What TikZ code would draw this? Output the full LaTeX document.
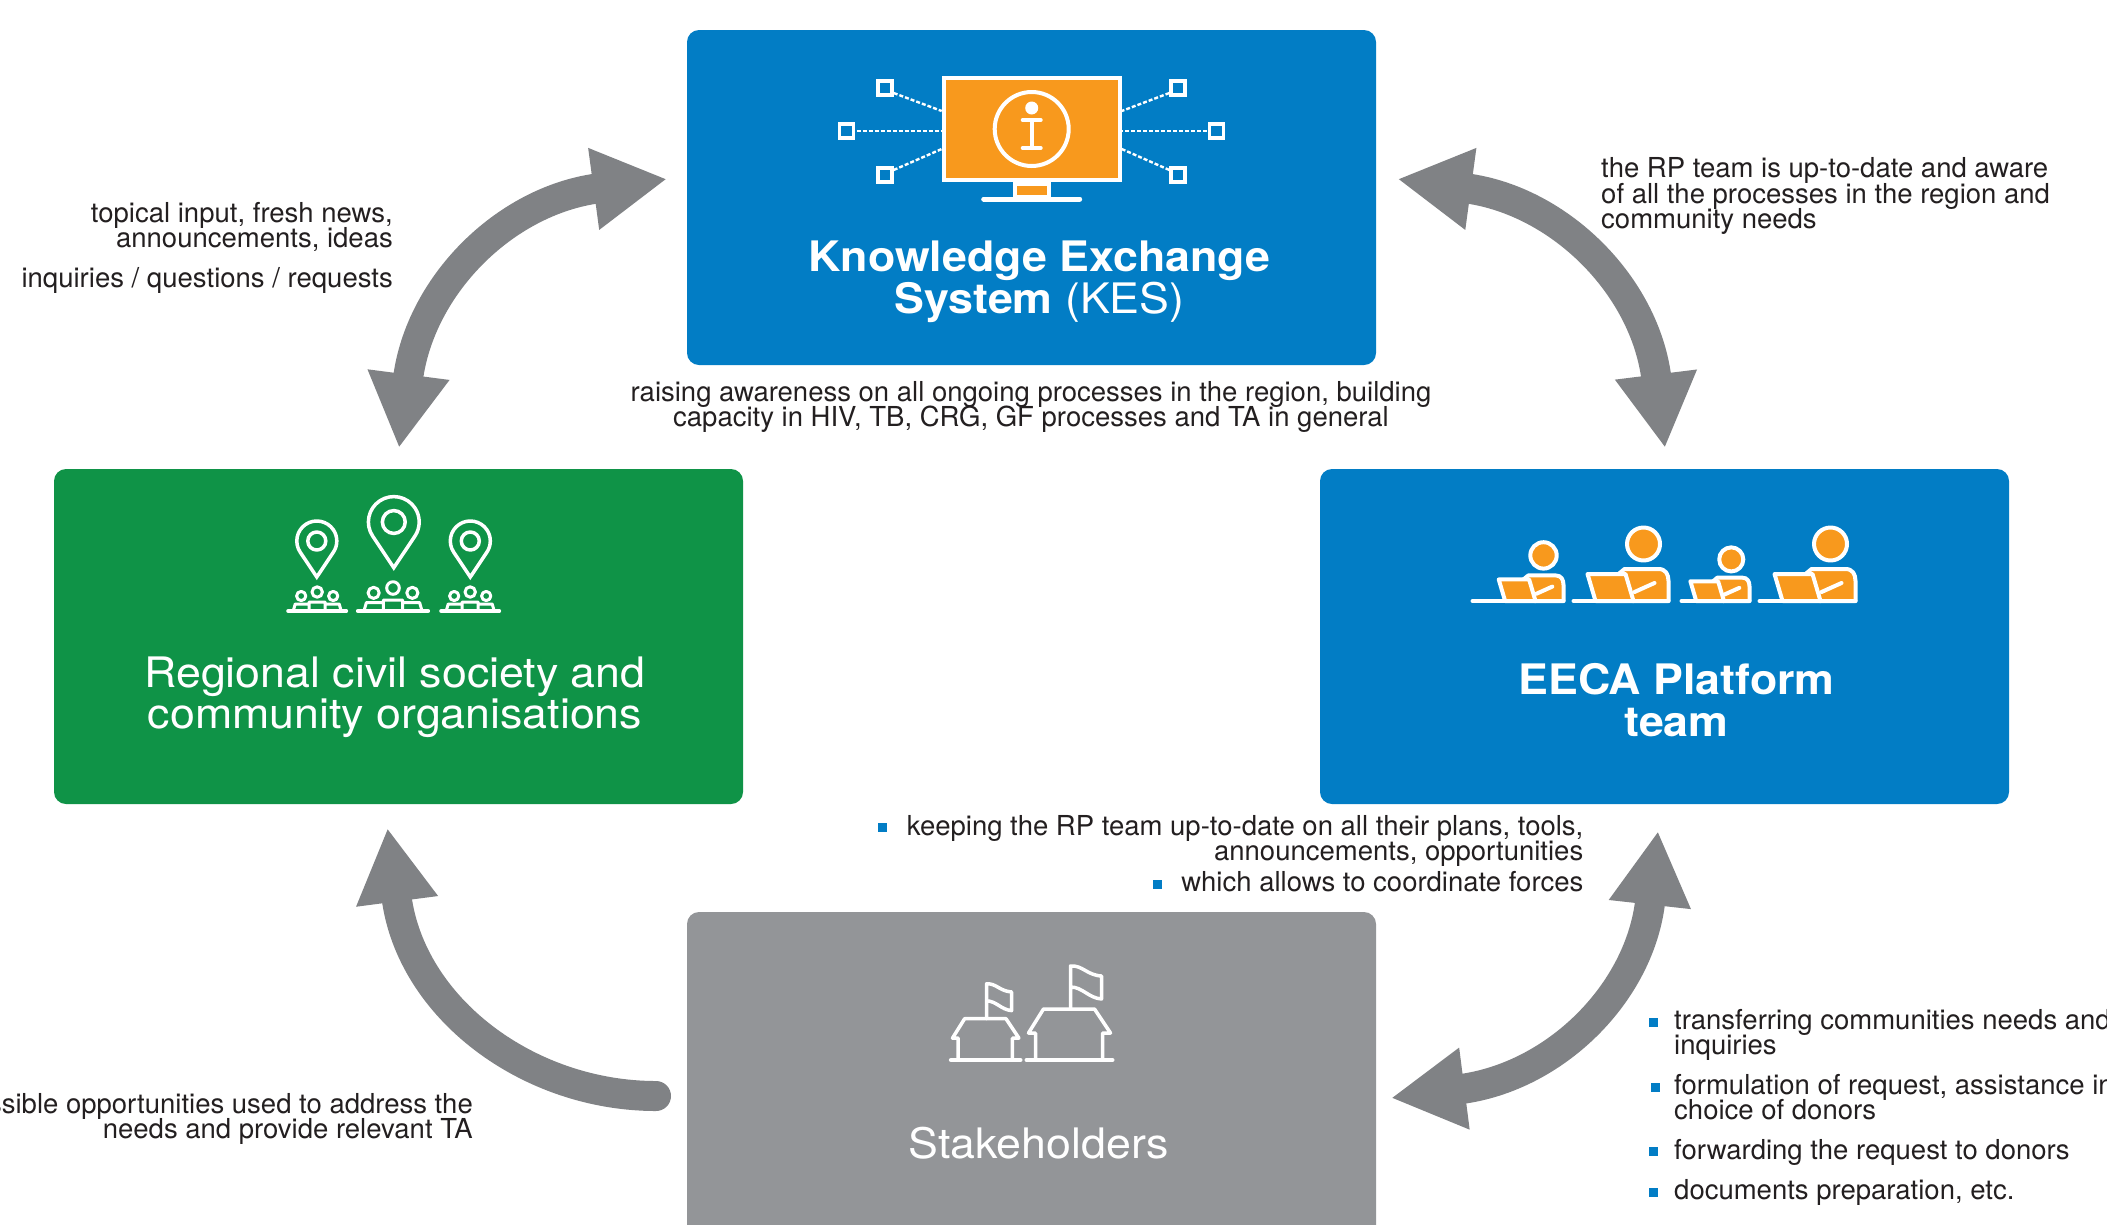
\documentclass[tikz,border=0pt]{standalone}
\usepackage{fontspec}
\setmainfont{TeX Gyre Heros}
\newfontfamily\headfont[FakeStretch=1.065]{TeX Gyre Heros}
\usepackage{xcolor}
\usetikzlibrary{arrows.meta}
\usetikzlibrary{calc}
\usetikzlibrary{positioning}
\setlength{\lineskiplimit}{-20pt}
\definecolor{kesblue}{HTML}{027DC5}
\definecolor{regiongreen}{HTML}{0F9347}
\definecolor{stakegrey}{HTML}{939598}
\definecolor{arrowgrey}{HTML}{808285}
\definecolor{iconorange}{HTML}{F8991D}
\definecolor{inktext}{HTML}{231F20}
\tikzset{
  infobox/.style={rectangle,rounded corners=12,minimum width=689,minimum height=335,inner sep=0},
  titletext/.style={text=white,font=\headfont\fontsize{42}{41.5}\selectfont,align=center,inner sep=0},
  labeltext/.style={text=inktext,font=\fontsize{27.5}{25.3}\selectfont,inner sep=0},
  bulletsq/.style={rectangle,fill=kesblue,minimum size=9,inner sep=0},
  flowarrow/.style={draw=arrowgrey,line width=30,>={Triangle[length=74pt,width=77pt]}},
  iconline/.style={draw=white,line width=3.5,line cap=round,line join=round},
  portbox/.style={rectangle,draw=white,line width=3.5,minimum size=14,inner sep=0},
  dashlink/.style={draw=white,line width=2.4,dash pattern=on 4pt off 2pt},
}
% icons, placed by their own origin
\newcommand{\mappin}[3]{%
  \begin{scope}[shift={(#1,#2)},scale=#3]
    \draw [iconline,line join=miter] (0,36) -- (146.3:20) arc[start angle=146.3,end angle=393.7,radius=20] -- cycle;
    \draw [iconline] (0,0) circle[radius=9];
  \end{scope}}
\newcommand{\peoplerow}[3]{%
  \begin{scope}[shift={(#1,#2)},scale=#3]
    \draw [iconline,line width=4] (-29,0) -- (29,0);
    \draw [iconline,line width=3] (0,-19) circle[radius=5.2] (-16,-15) circle[radius=4.6] (16,-15) circle[radius=4.6];
    \draw [iconline,line width=3] (-24,0) -- (-22,-7) -- (-8,-7) (-8,0) -- (-8,-9) -- (8,-9) -- (8,0) (8,-7) -- (22,-7) -- (24,0);
  \end{scope}}
\newcommand{\deskworker}[3]{%
  \draw [iconline,line width=4] (#3,601) -- (#1,601);
  \begin{scope}[shift={(#1,601)},scale=#2]
    \draw [iconline,line width=4,fill=iconorange] (-50,-27) -- (-44,-32) -- (-10,-32) .. controls (-3,-32) and (0,-27) .. (0,-20) -- (0,0) -- (-36,0) -- cycle;
    \draw [iconline,line width=4,fill=iconorange] (-81,-27) -- (-43,-27) -- (-35,0) -- (-73,0) -- cycle;
    \draw [iconline,line width=4] (-34,-9) -- (-14,-18);
    \draw [iconline,line width=4,fill=iconorange] (-25,-57) circle[radius=16.5];
  \end{scope}}
\newcommand{\flaghouse}[3]{%
  \begin{scope}[shift={(#1,#2)},scale=#3]
    \draw [iconline,line width=4] (-44,0) -- (42,0);
    \draw [iconline] (-35,0) -- (-35,-27) -- (-42,-27) -- (-27,-51) -- (24,-51) -- (40,-27) -- (32,-27) -- (32,0);
    \draw [iconline] (0,-51) -- (0,-94) .. controls (12,-95) and (16,-85) .. (31,-84) -- (31,-61) .. controls (18,-62) and (12,-73) .. (0,-73);
  \end{scope}}

\begin{document}
\begin{tikzpicture}[x=1pt,y=-1pt]
\useasboundingbox (0,0) rectangle (2107,1224);
\clip (0,0) rectangle (2107,1224);
\fill [white] (0,0) rectangle (2107,1224);
%%
  \node (box_kes) at (1031.5,197.5) [infobox,fill=kesblue] {};
  \node (box_region) at (398.5,636.5) [infobox,fill=regiongreen] {};
  \node (box_eeca) at (1664.5,636.5) [infobox,fill=kesblue] {};
  \node (box_stake) at (1031.5,1120) [infobox,fill=stakegrey,minimum height=416] {};
%%
  \node (title_kes) at (1039.5,313) [titletext,anchor=base] {\textbf{Knowledge Exchange}\\\textbf{System} (KES)};
  \node (title_region) at (395,728.5) [titletext,anchor=base] {Regional civil society and\\community organisations};
  \node (title_eeca) at (1676.5,736) [titletext,anchor=base] {\textbf{EECA Platform}\\\textbf{team}};
  \node (title_stake) at (1038.5,1158) [titletext,anchor=base] {Stakeholders};
%% monitor
  \node (screen) at (1031.7,129) [rectangle,draw=white,line width=4,fill=iconorange,minimum width=176,minimum height=102,inner sep=0] {};
  \node (inforing) at (1031.7,129) [circle,draw=white,line width=4,minimum size=74,inner sep=0] {};
  \fill [white] (1031.7,108) circle[radius=6.5];
  \draw [iconline,line width=4] (1022.7,120) -- (1031.7,120) -- (1031.7,148) (1022.7,148) -- (1040.7,148) (1031.7,120) -- (1040.7,120);
  \draw [draw=white,line width=4,fill=iconorange] (1014.7,184) rectangle (1048.7,197);
  \draw [iconline,line width=5] (983.7,199) -- (1079.7,199);
  \node (port_a) at (885,88) [portbox] {};
  \node (port_b) at (846.5,131) [portbox] {};
  \node (port_c) at (885,175) [portbox] {};
  \node (port_d) at (1178,88) [portbox] {};
  \node (port_e) at (1216.5,131) [portbox] {};
  \node (port_f) at (1178,175) [portbox] {};
  \draw [dashlink] (port_a.-30) -- ($(screen.west)+(0,-18)$);
  \draw [dashlink] (port_b) ++(10,0) -- ($(screen.west)+(0,2)$);
  \draw [dashlink] (port_c.30) -- ($(screen.west)+(0,20)$);
  \draw [dashlink] (port_d.210) -- ($(screen.east)+(0,-18)$);
  \draw [dashlink] (port_e) ++(-10,0) -- ($(screen.east)+(0,2)$);
  \draw [dashlink] (port_f.150) -- ($(screen.east)+(0,20)$);
%% pins and people
  \mappin{316.8}{541}{1}
  \mappin{393.8}{522}{1.27}
  \mappin{470.3}{541}{1}
  \peoplerow{317.2}{611}{1}
  \peoplerow{393}{611}{1.21}
  \peoplerow{470.2}{611}{1}
%% workers
  \deskworker{1563.5}{.8}{1472.5}
  \deskworker{1668.5}{1}{1573.5}
  \deskworker{1749.5}{.73}{1681.5}
  \deskworker{1855.5}{1}{1759.5}
%% houses
  \flaghouse{986.5}{1060}{.81}
  \flaghouse{1070.5}{1060}{1}
%% arrows
  \coordinate (kes_left) at (667,179);
  \coordinate (region_top) at (399,448);
  \coordinate (kes_right) at (1397.5,179);
  \coordinate (eeca_top) at (1665,448);
  \coordinate (eeca_bottom) at (1658,831);
  \coordinate (stake_right) at (1391,1098);
  \coordinate (region_bottom) at (387.5,828);
  \coordinate (stake_left) at (656,1096);
  \draw [flowarrow,<->] (kes_left) .. controls (504,201) and (420,286) .. (region_top);
  \draw [flowarrow,<->] (kes_right) .. controls (1560,201) and (1645,286) .. (eeca_top);
  \draw [flowarrow,<->] (eeca_bottom) .. controls (1640,993) and (1555,1077) .. (stake_right);
  \draw [flowarrow,line cap=round,->] (stake_left) .. controls (528,1096) and (411,1008) .. (region_bottom);
%% labels
  \node (txt_topical) at (393,247.3) [labeltext,anchor=base east,align=right] {topical input, fresh news,\\announcements, ideas};
  \node (txt_inquiries) at (393,287.3) [labeltext,anchor=base east] {inquiries / questions / requests};
  \node (txt_raising) at (1031,426.3) [labeltext,anchor=base,align=center] {raising awareness on all ongoing processes in the region, building\\capacity in HIV, TB, CRG, GF processes and TA in general};
  \node (txt_uptodate) at (1601,228.3) [labeltext,anchor=base west,align=left] {the RP team is up-to-date and aware\\of all the processes in the region and\\community needs};
  \node (txt_keeping) at (1583.5,860.3) [labeltext,anchor=base east,align=right] {keeping the RP team up-to-date on all their plans, tools,\\announcements, opportunities};
  \node (txt_forces) at (1583.5,891.3) [labeltext,anchor=base east] {which allows to coordinate forces};
  \node (txt_possible) at (473,1138.3) [labeltext,anchor=base east,align=right] {possible opportunities used to address the\\needs and provide relevant TA};
  \node (txt_transfer) at (1674,1054.3) [labeltext,anchor=base west,align=left] {transferring communities needs and\\inquiries};
  \node (txt_formul) at (1674,1119.3) [labeltext,anchor=base west,align=left] {formulation of request, assistance in\\choice of donors};
  \node (txt_forward) at (1674,1159.3) [labeltext,anchor=base west] {forwarding the request to donors};
  \node (txt_docs) at (1674,1199.3) [labeltext,anchor=base west] {documents preparation, etc.};
%% bullets
  \node (dot_keeping) at (882.5,827) [bulletsq] {};
  \node (dot_forces) at (1157.5,884.5) [bulletsq] {};
  \node (dot_transfer) at (1653.5,1022.5) [bulletsq] {};
  \node (dot_formul) at (1655.5,1087.5) [bulletsq] {};
  \node (dot_forward) at (1653.5,1151.5) [bulletsq] {};
  \node (dot_docs) at (1653.5,1192) [bulletsq] {};
%
\end{tikzpicture}
\end{document}
